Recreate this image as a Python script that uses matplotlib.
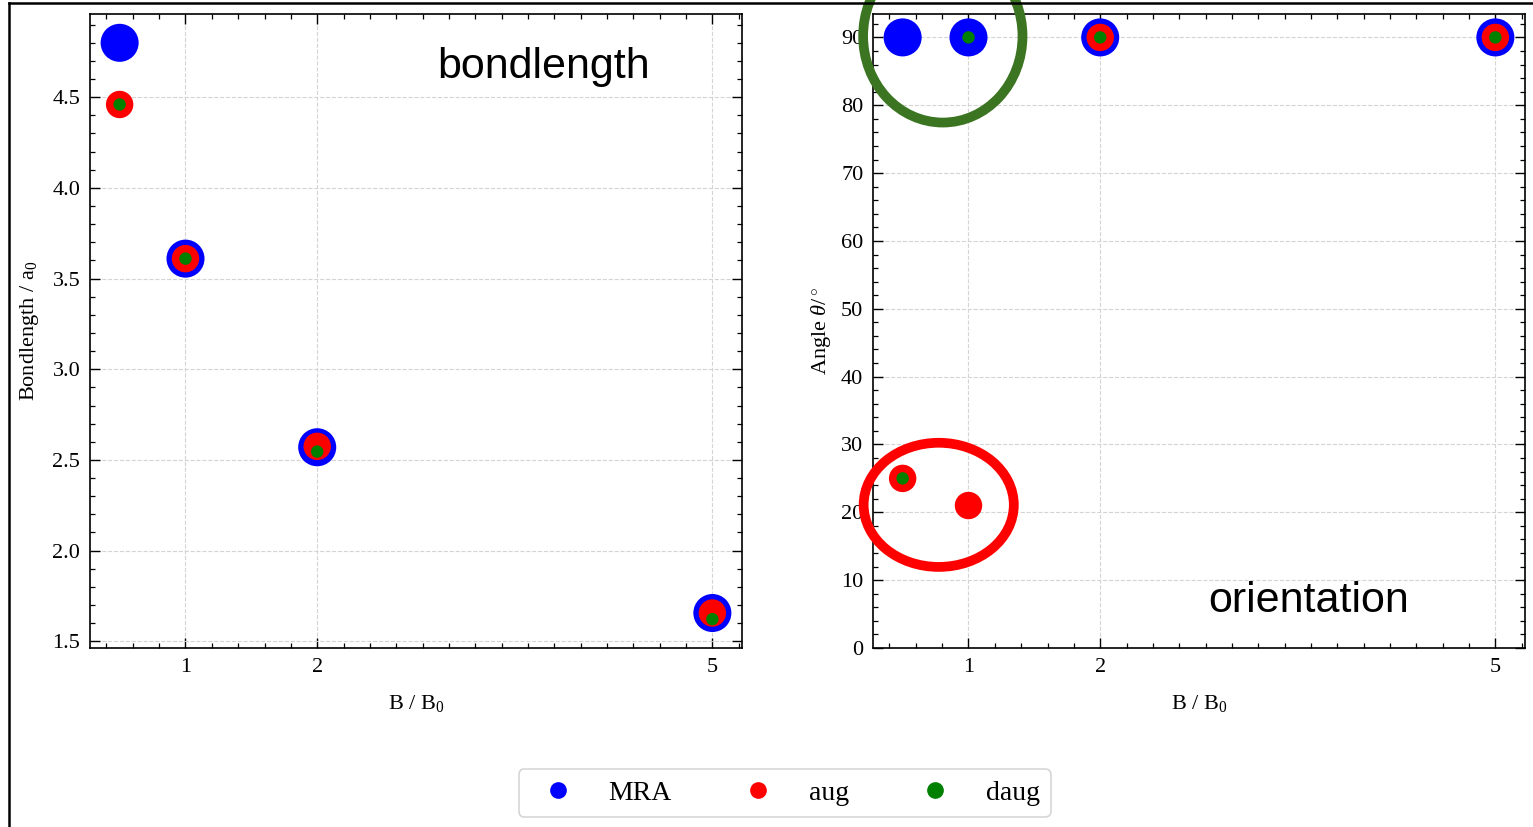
import matplotlib
matplotlib.use("Agg")
import matplotlib.pyplot as plt
from matplotlib.lines import Line2D
from matplotlib.patches import Ellipse
from matplotlib.ticker import AutoMinorLocator, MultipleLocator

# Field strengths B / B0
field = [0.5, 1, 2, 5]

# Bond length in units of a0
bond_mra = [4.80, 3.61, 2.57, 1.656]
bond_aug = [4.46, 3.61, 2.575, 1.656]
bond_daug = [4.46, 3.61, 2.546, 1.622]

# Orientation angle theta in degrees
angle_mra = [90, 90, 90, 90]
angle_aug = [25, 21, 90, 90]
angle_daug = [25, 90, 90, 90]

series_names = ["MRA", "aug", "daug"]
series_colors = ["blue", "red", "green"]
series_sizes = [750, 390, 80]
xtick_values = [1, 2, 5]

plt.rcParams["font.family"] = ["Liberation Serif", "DejaVu Serif"]
plt.rcParams["mathtext.fontset"] = "custom"
plt.rcParams["mathtext.rm"] = "Liberation Serif"
plt.rcParams["mathtext.it"] = "Liberation Serif:italic"
plt.rcParams["axes.linewidth"] = 1.2

W, H = 1533, 827
fig = plt.figure(figsize=(W / 100, H / 100), dpi=100)
ax1 = fig.add_axes([90 / W, 1 - 648 / H, 652 / W, 634 / H])
ax2 = fig.add_axes([873 / W, 1 - 648 / H, 652 / W, 634 / H])


def style_axes(ax):
    ax.set_xticks(xtick_values)
    ax.xaxis.set_minor_locator(AutoMinorLocator(5))
    ax.yaxis.set_minor_locator(AutoMinorLocator(5))
    ax.tick_params(which="both", direction="in", top=True, right=True,
                   labelsize=16, pad=7)
    ax.tick_params(which="major", length=7, width=1.0)
    ax.tick_params(which="minor", length=3.5, width=0.9)
    ax.grid(True, which="major", ls="--", color="#d4d4d4", lw=0.8)
    ax.set_axisbelow(True)
    ax.set_xlabel("B / B$_0$", fontsize=16, labelpad=12)


for ys, c, s in zip([bond_mra, bond_aug, bond_daug], series_colors, series_sizes):
    ax1.scatter(field, ys, s=s, color=c, edgecolors="none", zorder=3)
for ys, c, s in zip([angle_mra, angle_aug, angle_daug], series_colors, series_sizes):
    ax2.scatter(field, ys, s=s, color=c, edgecolors="none", zorder=3)

ax2.yaxis.set_major_locator(MultipleLocator(10))
style_axes(ax1)
style_axes(ax2)
ax2.set_ylim(bottom=0)

ax1.set_ylabel("Bondlength / a$_0$", fontsize=16, labelpad=8)
ax2.set_ylabel(r"Angle $\theta$/$^\circ$", fontsize=16, labelpad=6)

ax1.text(0.532, 0.899, "bondlength", transform=ax1.transAxes,
         family=["Liberation Sans", "DejaVu Sans"], fontsize=31,
         ha="left", va="baseline")
ax2.text(0.514, 0.057, "orientation", transform=ax2.transAxes,
         family=["Liberation Sans", "DejaVu Sans"], fontsize=31,
         ha="left", va="baseline")

# Highlight rings around the points of interest
ax2.add_patch(Ellipse((0.805, 90.2), 1.21, 25.5, fill=False,
                      edgecolor="#3b7522", lw=7, clip_on=False, zorder=5))
ax2.add_patch(Ellipse((0.774, 21.1), 1.14, 18.3, fill=False,
                      edgecolor="#ff0000", lw=7, clip_on=False, zorder=5))

handles = [Line2D([], [], marker="o", ls="none", color=c, markersize=11)
           for c in series_colors]
leg = fig.legend(handles, series_names, loc="center", ncol=3,
                 bbox_to_anchor=(0.512, 0.041), fontsize=20,
                 handlelength=2.0, handletextpad=0.83, columnspacing=2.1,
                 frameon=True, fancybox=True, borderpad=0.4)
leg.get_frame().set_edgecolor("#cccccc")
leg.get_frame().set_linewidth(1.2)

# Outer frame lines along the left and top edges
fig.add_artist(Line2D([9 / W, 9 / W], [0, 1 - 3 / H], transform=fig.transFigure,
                      color="black", lw=1.8))
fig.add_artist(Line2D([9 / W, 1], [1 - 3 / H, 1 - 3 / H], transform=fig.transFigure,
                      color="black", lw=1.8))

fig.savefig("out.png", dpi=100)
